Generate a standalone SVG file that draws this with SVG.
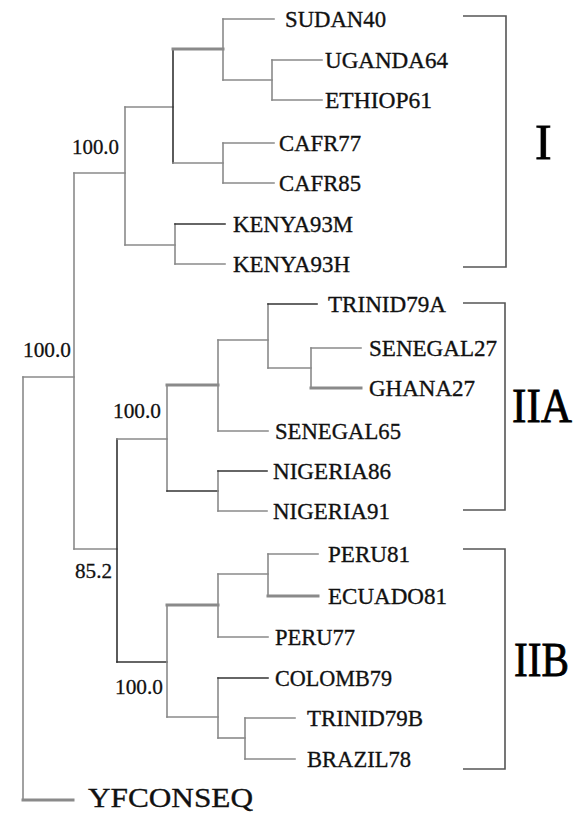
<svg xmlns="http://www.w3.org/2000/svg" width="587" height="815" viewBox="0 0 587 815">
  <style>
    .br { fill: none; stroke: #8a8a8a; stroke-width: 1.6; stroke-linecap: square; }
    .dk { stroke: #333; }
    .tk { stroke-width: 3; }
    .bk { fill: none; stroke: #555; stroke-width: 1.6; }
    .leaf { font-family: "Liberation Serif", "Times New Roman", serif; font-size: 23.5px; fill: #111; stroke: #111; stroke-width: 0.35; }
    .boot { font-family: "Liberation Serif", "Times New Roman", serif; font-size: 22px; fill: #111; stroke: #111; stroke-width: 0.3; }
    .grp { font-family: "Liberation Serif", "Times New Roman", serif; font-size: 48px; fill: #000; stroke: #000; stroke-width: 0.8; }
  </style>
  <rect width="587" height="815" fill="#fff"/>

  <!-- tree branches -->
  <g id="connectors">
    <!-- root and outgroup -->
    <path class="br" d="M23,377 V800"/>
    <path class="br tk" d="M23,800 H73"/>
    <path class="br" d="M23,377 H74"/>
    <path class="br" d="M74,173 V549"/>
    <path class="br" d="M74,173 H125"/>
    <path class="br" d="M74,549 H117"/>

    <!-- group I -->
    <path class="br" d="M125,107 V245"/>
    <path class="br" d="M125,107 H173"/>
    <path class="br dk" d="M173,49 V163"/>
    <path class="br tk" d="M173,49 H223"/>
    <path class="br" d="M223,19 V80"/>
    <path class="br" d="M223,19 H274"/>
    <path class="br" d="M223,80 H272"/>
    <path class="br" d="M272,60 V100"/>
    <path class="br" d="M272,60 H322"/>
    <path class="br" d="M272,100 H322"/>
    <path class="br" d="M173,163 H223"/>
    <path class="br" d="M223,143 V183"/>
    <path class="br" d="M223,143 H274"/>
    <path class="br" d="M223,183 H274"/>
    <path class="br" d="M125,245 H175"/>
    <path class="br" d="M175,224 V264"/>
    <path class="br dk" d="M175,224 H225"/>
    <path class="br" d="M175,264 H225"/>

    <!-- group IIA -->
    <path class="br dk" d="M117,439 V662"/>
    <path class="br" d="M117,439 H167"/>
    <path class="br" d="M167,385 V491"/>
    <path class="br tk" d="M167,385 H218"/>
    <path class="br" d="M218,340 V431"/>
    <path class="br" d="M218,340 H268"/>
    <path class="br" d="M268,304 V368"/>
    <path class="br dk" d="M268,304 H317"/>
    <path class="br" d="M268,368 H311"/>
    <path class="br" d="M311,348 V388"/>
    <path class="br" d="M311,348 H361"/>
    <path class="br tk" d="M311,388 H361"/>
    <path class="br" d="M218,431 H268"/>
    <path class="br dk" d="M167,491 H218"/>
    <path class="br" d="M218,471 V511"/>
    <path class="br dk" d="M218,471 H267"/>
    <path class="br" d="M218,511 H267"/>

    <!-- group IIB -->
    <path class="br dk" d="M117,662 H167"/>
    <path class="br" d="M167,605 V717"/>
    <path class="br tk" d="M167,605 H218"/>
    <path class="br" d="M218,574 V637"/>
    <path class="br" d="M218,574 H268"/>
    <path class="br" d="M268,554 V596"/>
    <path class="br" d="M268,554 H318"/>
    <path class="br tk" d="M268,596 H318"/>
    <path class="br" d="M218,637 H268"/>
    <path class="br" d="M167,717 H218"/>
    <path class="br" d="M218,678 V738"/>
    <path class="br dk" d="M218,678 H268"/>
    <path class="br" d="M218,738 H245"/>
    <path class="br" d="M245,718 V759"/>
    <path class="br" d="M245,718 H295"/>
    <path class="br" d="M245,759 H295"/>
  </g>

  <!-- bootstrap values -->
  <g id="bootstrap">
    <text class="boot" x="72" y="154" textLength="47" lengthAdjust="spacingAndGlyphs">100.0</text>
    <text class="boot" x="23" y="357" textLength="48" lengthAdjust="spacingAndGlyphs">100.0</text>
    <text class="boot" x="113" y="418" textLength="48" lengthAdjust="spacingAndGlyphs">100.0</text>
    <text class="boot" x="75" y="578" textLength="37" lengthAdjust="spacingAndGlyphs">85.2</text>
    <text class="boot" x="115" y="694" textLength="48" lengthAdjust="spacingAndGlyphs">100.0</text>
  </g>

  <!-- taxa -->
  <g id="SUDAN40"><text class="leaf" x="285" y="27" textLength="101" lengthAdjust="spacingAndGlyphs">SUDAN40</text></g>
  <g id="UGANDA64"><text class="leaf" x="325" y="68" textLength="123" lengthAdjust="spacingAndGlyphs">UGANDA64</text></g>
  <g id="ETHIOP61"><text class="leaf" x="325" y="108" textLength="107" lengthAdjust="spacingAndGlyphs">ETHIOP61</text></g>
  <g id="CAFR77"><text class="leaf" x="279" y="151" textLength="82" lengthAdjust="spacingAndGlyphs">CAFR77</text></g>
  <g id="CAFR85"><text class="leaf" x="279" y="191" textLength="82" lengthAdjust="spacingAndGlyphs">CAFR85</text></g>
  <g id="KENYA93M"><text class="leaf" x="233" y="232" textLength="120" lengthAdjust="spacingAndGlyphs">KENYA93M</text></g>
  <g id="KENYA93H"><text class="leaf" x="233" y="272" textLength="117" lengthAdjust="spacingAndGlyphs">KENYA93H</text></g>
  <g id="TRINID79A"><text class="leaf" x="328" y="312" textLength="118" lengthAdjust="spacingAndGlyphs">TRINID79A</text></g>
  <g id="SENEGAL27"><text class="leaf" x="369" y="356" textLength="128" lengthAdjust="spacingAndGlyphs">SENEGAL27</text></g>
  <g id="GHANA27"><text class="leaf" x="369" y="396" textLength="106" lengthAdjust="spacingAndGlyphs">GHANA27</text></g>
  <g id="SENEGAL65"><text class="leaf" x="275" y="439" textLength="126" lengthAdjust="spacingAndGlyphs">SENEGAL65</text></g>
  <g id="NIGERIA86"><text class="leaf" x="273" y="479" textLength="118" lengthAdjust="spacingAndGlyphs">NIGERIA86</text></g>
  <g id="NIGERIA91"><text class="leaf" x="273" y="519" textLength="117" lengthAdjust="spacingAndGlyphs">NIGERIA91</text></g>
  <g id="PERU81"><text class="leaf" x="328" y="562" textLength="82" lengthAdjust="spacingAndGlyphs">PERU81</text></g>
  <g id="ECUADO81"><text class="leaf" x="328" y="604" textLength="119" lengthAdjust="spacingAndGlyphs">ECUADO81</text></g>
  <g id="PERU77"><text class="leaf" x="275" y="645" textLength="80" lengthAdjust="spacingAndGlyphs">PERU77</text></g>
  <g id="COLOMB79"><text class="leaf" x="275" y="686" textLength="117" lengthAdjust="spacingAndGlyphs">COLOMB79</text></g>
  <g id="TRINID79B"><text class="leaf" x="307" y="726" textLength="116" lengthAdjust="spacingAndGlyphs">TRINID79B</text></g>
  <g id="BRAZIL78"><text class="leaf" x="307" y="767" textLength="104" lengthAdjust="spacingAndGlyphs">BRAZIL78</text></g>
  <g id="YFCONSEQ"><text class="leaf" x="88" y="807" style="font-size:28px" textLength="165" lengthAdjust="spacingAndGlyphs">YFCONSEQ</text></g>

  <!-- group brackets -->
  <g id="group-I">
    <path class="bk" d="M463,16 H506 V267 H463"/>
    <text class="grp" x="535" y="159" style="font-size:50px">I</text>
  </g>
  <g id="group-IIA">
    <path class="bk" d="M463,303 H505 V510 H463"/>
    <text class="grp" x="512" y="422" textLength="60" lengthAdjust="spacingAndGlyphs">IIA</text>
  </g>
  <g id="group-IIB">
    <path class="bk" d="M463,549 H505 V769 H463"/>
    <text class="grp" x="514" y="676" textLength="55" lengthAdjust="spacingAndGlyphs">IIB</text>
  </g>
</svg>
